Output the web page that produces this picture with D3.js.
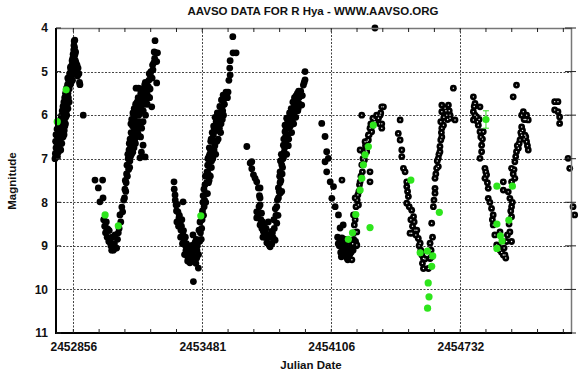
<!DOCTYPE html>
<html>
<head>
<meta charset="utf-8">
<script src="https://cdn.jsdelivr.net/npm/d3@7"></script>
<style>
  body { margin: 0; background: #fff; }
  text { font-family: "Liberation Sans", Arial, sans-serif; fill: #111; }
</style>
</head>
<body>
<div id="chart"></div>
<script>
const width = 580, height = 374;
const margin = { top: 28, right: 8, bottom: 41, left: 56 };

// tick values
const xMajorTicks = [2452856, 2453481, 2454106, 2454732];
const yTicks = [4, 5, 6, 7, 8, 9, 10, 11];

// visual estimates, solid dots  [JD, magnitude]
const visualObs = [
  [2452767,7.00],[2452769,6.88],[2452771,6.95],[2452772,6.75],[2452774,6.62],[2452772,6.45],[2452776,6.85],
  [2452778,6.70],[2452780,6.52],[2452777,6.32],[2452782,6.62],[2452784,6.40],[2452786,6.22],[2452788,6.72],
  [2452790,6.50],[2452792,6.30],[2452794,6.10],[2452796,6.42],[2452798,6.02],[2452800,6.22],[2452802,5.90],
  [2452804,6.30],[2452806,5.80],[2452808,6.02],[2452810,5.70],[2452812,6.12],[2452814,5.60],[2452816,5.85],
  [2452818,5.50],[2452820,5.75],[2452823,5.38],[2452825,5.60],[2452828,5.30],[2452830,5.50],[2452833,5.20],
  [2452836,5.40],[2452838,5.05],[2452841,5.30],[2452844,4.95],[2452846,5.15],[2452849,4.85],[2452851,5.00],
  [2452853,4.70],[2452856,4.90],[2452858,4.50],[2452860,4.30],[2452863,4.28],[2452862,4.45],[2452864,4.60],
  [2452866,4.75],[2452869,4.80],[2452872,4.95],[2452876,5.10],[2452879,4.92],[2452883,5.05],[2452886,5.25],
  [2452888,5.30],[2452904,6.00],[2452795,6.80],[2452800,6.65],[2452806,6.50],[2452812,6.35],[2452818,6.20],
  [2452824,6.00],[2452830,5.85],[2452836,5.70],
  [2452770,6.60],[2452773,6.90],[2452779,6.95],[2452783,6.85],[2452785,6.55],[2452789,6.30],[2452791,6.15],
  [2452793,6.60],[2452797,6.25],[2452799,6.50],[2452801,6.05],[2452803,6.45],[2452807,6.15],[2452809,5.85],
  [2452811,6.45],[2452813,5.80],[2452815,6.25],[2452817,5.65],[2452819,6.05],[2452821,5.55],[2452822,5.90],
  [2452826,5.45],[2452827,5.75],[2452829,5.15],[2452832,5.60],[2452834,5.35],[2452837,5.25],[2452840,5.10],
  [2452842,4.90],[2452845,5.25],[2452848,5.05],[2452850,4.75],[2452852,5.20],[2452855,4.60],[2452857,5.05],
  [2452859,4.40],[2452861,4.65],[2452865,4.90],[2452867,4.55],[2452870,5.00],[2452874,4.85],
  [2452961,7.49],[2452998,7.49],[2452977,7.67],[2452985,7.99],[2453000,7.90],[2453003,8.40],[2453008,8.55],
  [2453012,8.70],[2453016,8.45],[2453020,8.80],[2453024,8.62],[2453028,8.90],[2453034,8.91],[2453038,9.00],
  [2453042,9.10],[2453046,9.05],[2453050,9.10],[2453055,8.95],[2453060,9.05],[2453066,9.05],[2453070,8.85],
  [2453074,8.70],[2453078,8.60],[2453082,8.29],[2453086,8.45],[2453091,8.11],[2453095,8.22],[2453100,7.95],
  [2453030,8.65],[2453044,8.80],[2453058,8.75],[2453018,8.60],
  [2453104,7.90],[2453106,7.70],[2453108,7.50],[2453114,7.35],[2453116,7.15],[2453122,7.00],[2453126,6.80],
  [2453129,7.20],[2453131,6.55],[2453133,6.95],[2453136,6.40],[2453140,6.70],[2453143,6.25],[2453146,6.55],
  [2453149,6.05],[2453152,6.35],[2453155,5.90],[2453157,6.65],[2453160,6.15],[2453163,5.80],[2453166,6.40],
  [2453170,5.60],[2453173,6.00],[2453176,6.30],[2453179,5.75],[2453182,6.50],[2453186,5.55],[2453190,5.90],
  [2453194,6.15],[2453198,5.65],[2453202,5.30],[2453206,6.00],[2453210,5.45],[2453214,5.75],[2453218,5.42],
  [2453222,5.20],[2453226,5.60],[2453230,5.10],[2453236,5.81],[2453242,4.96],[2453246,4.80],[2453252,4.29],
  [2453256,4.57],[2453260,4.77],[2453264,4.57],[2453260,5.26],[2453160,5.38],[2453172,5.38],[2453188,5.40],
  [2453194,6.69],[2453179,6.98],[2453204,6.96],[2453186,6.85],
  [2453110,7.75],[2453112,7.55],[2453118,7.40],[2453120,6.90],[2453124,7.25],[2453127,6.65],[2453130,7.05],
  [2453134,6.70],[2453135,6.20],[2453138,6.90],[2453139,6.10],[2453141,6.45],[2453144,6.85],[2453145,5.95],
  [2453148,6.40],[2453150,6.75],[2453151,5.85],[2453154,6.55],[2453156,6.25],[2453158,5.75],[2453161,6.50],
  [2453162,6.00],[2453165,5.70],[2453167,6.20],[2453168,5.90],[2453171,6.45],[2453174,5.65],[2453175,6.15],
  [2453178,5.95],[2453181,6.20],[2453183,5.50],[2453184,5.85],[2453187,6.30],[2453189,5.70],[2453192,5.45],
  [2453195,5.90],[2453197,5.40],[2453200,5.75],[2453203,5.55],[2453205,5.25],[2453208,5.70],[2453212,5.30],
  [2453216,5.55],[2453220,5.35],[2453224,5.05],[2453228,5.40],[2453232,5.00],[2453238,5.15],[2453240,4.85],
  [2453248,4.55],[2453250,4.70],
  [2453344,7.53],[2453349,7.83],[2453388,7.99],[2453363,8.22],[2453373,8.52],[2453388,8.75],[2453397,8.98],
  [2453412,9.28],[2453421,9.39],[2453436,8.75],[2453454,9.28],[2453462,9.51],[2453438,9.82],[2453354,8.06],
  [2453368,8.36],[2453378,8.64],[2453392,8.87],[2453402,9.10],[2453416,9.00],[2453426,9.20],[2453441,9.10],
  [2453431,8.99],[2453446,8.92],[2453455,9.10],[2453460,8.87],[2453465,8.64],[2453470,8.45],[2453345,7.70],
  [2453358,8.45],[2453382,8.40],[2453408,9.15],[2453450,9.40],
  [2453350,7.95],[2453356,8.20],[2453360,8.05],[2453366,8.55],[2453370,8.30],[2453376,8.80],[2453380,8.55],
  [2453385,8.95],[2453390,8.65],[2453395,9.20],[2453399,8.80],[2453404,8.95],[2453410,9.35],[2453414,9.10],
  [2453418,9.25],[2453424,9.05],[2453428,9.35],[2453434,9.15],[2453444,9.25],[2453448,9.05],[2453452,8.85],
  [2453457,9.00],[2453463,9.20],[2453467,8.90],[2453472,8.70],[2453476,8.85],
  [2453478,8.60],[2453482,8.20],[2453485,7.85],[2453490,8.10],[2453494,7.60],[2453500,7.80],[2453504,7.30],
  [2453508,7.00],[2453511,7.55],[2453515,6.75],[2453518,7.20],[2453522,6.60],[2453526,7.05],[2453529,6.40],
  [2453533,6.85],[2453536,6.25],[2453540,6.60],[2453543,6.05],[2453546,6.90],[2453550,6.35],[2453554,5.95],
  [2453558,6.55],[2453562,6.15],[2453566,5.80],[2453570,6.40],[2453575,5.84],[2453578,6.10],[2453582,5.54],
  [2453586,5.75],[2453590,5.60],[2453596,5.47],[2453606,5.47],[2453610,5.20],[2453616,5.08],[2453614,4.92],
  [2453616,4.75],[2453630,4.57],[2453645,4.57],[2453629,4.20],[2453697,6.72],
  [2453480,8.40],[2453484,8.00],[2453487,8.30],[2453489,7.70],[2453492,7.95],[2453496,7.40],[2453498,8.00],
  [2453502,7.55],[2453506,7.80],[2453507,7.15],[2453510,7.35],[2453513,6.95],[2453514,7.50],[2453517,6.90],
  [2453520,7.40],[2453521,6.80],[2453524,6.55],[2453525,7.20],[2453528,6.85],[2453531,6.60],[2453532,7.00],
  [2453535,6.45],[2453538,6.80],[2453539,6.30],[2453542,6.70],[2453545,6.35],[2453548,6.15],[2453552,6.60],
  [2453556,6.20],[2453560,6.05],[2453564,6.30],[2453568,6.00],[2453572,6.20],[2453574,5.65],[2453580,5.90],
  [2453584,6.00],[2453588,5.75],[2453592,5.55],[2453600,5.50],[2453603,5.60],
  [2453713,7.10],[2453721,7.07],[2453721,7.23],[2453729,7.37],[2453737,7.45],[2453745,7.53],[2453753,7.67],
  [2453761,7.67],[2453761,7.90],[2453761,8.06],[2453745,8.22],[2453745,8.36],[2453761,8.52],[2453777,8.67],
  [2453794,8.93],[2453810,9.02],[2453825,8.82],[2453817,8.67],[2453801,8.45],[2453834,8.87],[2453842,8.48],
  [2453842,8.10],[2453858,7.79],[2453752,8.30],[2453770,8.60],[2453785,8.80],[2453802,8.95],[2453818,8.95],
  [2453830,8.60],[2453838,8.30],[2453786,8.70],
  [2453756,8.10],[2453758,7.85],[2453765,8.40],[2453768,8.25],[2453773,8.45],[2453775,8.80],[2453780,8.55],
  [2453790,8.60],[2453797,8.75],[2453805,8.80],[2453807,9.00],[2453814,8.80],[2453821,8.70],[2453828,8.40],
  [2453835,8.15],[2453845,7.95],[2453848,8.30],
  [2453850,7.90],[2453850,7.67],[2453858,7.30],[2453866,7.14],[2453874,6.98],[2453874,6.69],[2453882,6.38],
  [2453882,6.23],[2453890,6.07],[2453906,6.15],[2453922,5.84],[2453930,5.77],[2453955,5.54],[2453963,5.77],
  [2453971,5.31],[2453979,5.19],[2453979,5.00],[2453862,7.50],[2453870,7.20],[2453878,6.85],[2453886,6.60],
  [2453890,6.90],[2453895,6.45],[2453898,6.70],[2453902,6.30],[2453910,6.00],[2453914,6.40],[2453918,6.10],
  [2453926,5.95],[2453934,6.05],[2453940,5.70],[2453946,5.85],[2453950,5.60],[2453866,7.75],[2453858,7.55],
  [2453870,6.95],
  [2453854,7.75],[2453856,7.40],[2453860,7.05],[2453864,6.90],[2453868,7.35],[2453872,7.00],[2453876,6.55],
  [2453880,6.75],[2453884,6.50],[2453888,6.30],[2453892,6.20],[2453896,6.10],[2453900,6.55],[2453904,5.95],
  [2453908,6.25],[2453912,5.85],[2453916,6.00],[2453920,5.70],[2453924,6.20],[2453928,5.60],[2453932,5.90],
  [2453936,5.55],[2453942,5.50],[2453944,5.90],[2453948,5.45],[2453952,5.75],[2453958,5.45],[2453966,5.55],
  [2453975,5.25],
  [2454060,6.19],[2454076,6.49],[2454084,6.84],[2454092,6.99],[2454076,7.07],[2454084,7.30],[2454101,7.53],
  [2454117,7.64],[2454109,7.91],[2454125,8.10],[2454141,8.29],[2454149,8.59],[2454164,8.52],[2454158,8.82],
  [2454174,8.98],[2454182,9.28],[2454137,8.80],[2454145,9.00],[2454152,9.15],[2454160,9.05],[2454168,9.20],
  [2454176,9.15],[2454186,9.32],[2454190,9.10],[2454196,9.20],[2454200,9.05],[2454205,8.95],[2454212,9.10],
  [2454220,8.95],[2454228,9.00],[2454178,8.85],[2454195,8.90],[2454318,4.00],
  [2454140,8.95],[2454148,8.85],[2454155,9.25],[2454165,8.95],[2454172,9.10],[2454180,9.05],[2454188,9.20],
  [2454193,9.05],[2454202,9.15],[2454208,9.00],[2454215,8.85],[2454224,8.90]
];

// visual estimates, dots drawn with a white centre
const visualObsRing = [
  [2454158,7.49],
  [2454206,9.32],[2454230,8.98],[2454230,8.68],[2454214,8.29],[2454218,8.52],[2454222,7.90],[2454238,8.06],
  [2454235,7.83],[2454243,7.60],[2454246,7.53],[2454257,7.30],[2454254,7.14],[2454267,7.03],[2454246,6.80],
  [2454275,6.80],[2454278,6.84],[2454270,6.61],[2454286,6.57],[2454286,6.46],[2454294,6.30],[2454302,6.38],
  [2454308,6.07],[2454318,6.15],[2454335,6.07],[2454343,6.00],[2454351,6.30],[2454351,6.20],[2454351,5.81],
  [2454359,5.81],[2454254,6.00],[2454294,7.30],[2454294,7.53],
  [2454210,8.95],[2454216,8.70],[2454222,8.40],[2454226,8.10],[2454232,7.95],[2454240,7.75],[2454250,7.40],
  [2454260,7.00],[2454264,6.85],[2454272,6.70],[2454280,6.60],[2454290,6.45],[2454298,6.20],[2454304,6.25],
  [2454314,6.10],[2454326,6.00],[2454340,6.20],[2454346,5.95],
  [2454440,6.11],[2454431,6.42],[2454440,6.57],[2454448,6.80],[2454448,6.95],[2454456,7.22],[2454464,7.30],
  [2454472,7.53],[2454472,7.64],[2454480,7.87],[2454472,8.02],[2454496,8.18],[2454505,8.33],[2454496,8.71],
  [2454488,8.71],[2454512,8.64],[2454521,8.64],[2454528,8.83],[2454537,8.94],[2454545,9.21],[2454553,9.29],
  [2454553,9.52],[2454577,9.52],[2454585,9.29],[2454593,9.25],[2454585,8.94],[2454593,8.48],[2454601,8.10],
  [2454609,7.79],[2454609,7.68],[2454609,7.45],[2454617,7.22],[2454625,6.99],[2454633,6.84],[2454637,6.57],
  [2454642,6.30],[2454637,6.15],[2454642,5.92],[2454642,5.77],[2454658,5.84],[2454674,5.77],[2454666,6.00],
  [2454682,6.07],[2454650,6.23],[2454698,5.38],[2454706,6.11],[2454682,6.00],[2454642,6.50],[2454633,6.72],
  [2454625,7.18],
  [2454476,7.75],[2454484,8.10],[2454492,8.40],[2454500,8.55],[2454508,8.45],[2454516,8.75],[2454532,9.00],
  [2454540,9.10],[2454548,9.40],[2454560,9.30],[2454590,9.10],[2454597,8.80],[2454604,7.95],[2454613,7.35],
  [2454620,7.05],[2454628,6.90],[2454640,6.40],[2454652,6.05],[2454662,5.90],[2454670,6.10],[2454678,5.90],
  [2454795,5.58],[2454803,5.73],[2454827,5.81],[2454795,5.92],[2454803,6.00],[2454795,6.11],[2454819,6.23],
  [2454827,6.38],[2454843,6.38],[2454811,6.04],[2454835,6.69],[2454835,6.84],[2454827,6.99],[2454851,7.22],
  [2454859,7.37],[2454851,7.45],[2454867,7.68],[2454867,7.91],[2454883,8.14],[2454891,8.29],[2454940,7.53],
  [2454940,7.72],[2454924,8.68],[2454948,9.21],[2454956,8.90],[2454980,8.90],[2454972,8.68],[2454980,8.33],
  [2454980,8.10],[2454972,7.91],[2454964,7.76],[2454980,7.53],[2454996,7.45],[2454980,7.22],[2454996,7.07],
  [2455004,6.84],[2455013,6.76],[2455021,6.57],[2455029,6.46],[2455045,6.46],[2455053,6.61],[2455061,6.80],
  [2455029,6.27],[2455029,6.00],[2455037,5.92],[2455053,6.00],[2455061,6.11],[2454988,5.58],[2455004,5.31],
  [2454891,8.52],[2454899,8.75],[2454908,8.98],[2454924,9.10],[2454940,9.21],[2454952,9.28],
  [2454799,5.80],[2454815,6.15],[2454823,6.10],[2454831,6.50],[2454839,6.55],[2454855,7.30],[2454863,7.55],
  [2454875,8.00],[2454887,8.40],[2454916,9.00],[2454932,9.15],[2454944,9.05],[2454960,8.75],[2454968,8.50],
  [2454976,8.20],[2454984,8.00],[2454988,7.35],[2454992,7.25],[2455000,6.95],[2455008,6.70],[2455017,6.65],
  [2455025,6.40],[2455033,6.35],[2455041,6.55],[2455049,6.50],[2455057,6.70],[2455041,6.10],[2455049,6.10],
  [2455189,5.69],[2455205,5.69],[2455189,5.88],[2455205,5.92],[2455213,6.04],[2455213,6.19],[2455254,6.99],
  [2455262,7.22],[2455278,8.10],[2455286,8.29]
];

// second observer set, green
const greenObs = [
  [2452821,5.42],[2452778,6.15],[2453010,8.29],[2453074,8.54],[2453474,8.31],
  [2454310,6.23],[2454286,6.72],[2454270,6.91],[2454262,7.14],[2454254,7.45],[2454246,7.72],[2454225,8.28],
  [2454209,8.70],[2454189,8.85],[2454294,8.58],
  [2454492,7.49],[2454537,9.16],[2454572,9.12],[2454598,9.23],[2454593,9.47],[2454576,9.85],[2454580,10.17],
  [2454573,10.43],[2454630,8.23],
  [2454856,6.10],[2454909,7.63],[2454984,7.63],[2454909,8.50],[2454926,8.77],[2454934,8.89],[2454967,8.41],
  [2454909,9.06]
];
const greenErrJD = [2454856];
const greenErrMag = [6.10];
const greenErrSize = [0.20];

const svg = d3.select("#chart").append("svg")
  .attr("width", width).attr("height", height);

const x = d3.scaleLinear()
  .domain([2452772, 2455273])
  .range([margin.left, width - margin.right]);

const y = d3.scaleLinear()
  .domain([4, 11])
  .range([margin.top, height - margin.bottom]);

const x0 = margin.left, x1 = width - margin.right;
const y0 = margin.top, y1 = height - margin.bottom;

// minor ticks every 125 days
const xMinor = d3.range(xMajorTicks[0], 2455273, 125);

// grid
const grid = svg.append("g")
  .attr("stroke", "#444").attr("stroke-width", 1).attr("stroke-dasharray", "2,1.5");
grid.selectAll(".gx").data(xMajorTicks).enter().append("line")
  .attr("x1", d => Math.round(x(d)) + .5).attr("x2", d => Math.round(x(d)) + .5)
  .attr("y1", y0).attr("y2", y1);
grid.selectAll(".gy").data(yTicks.slice(1, -1)).enter().append("line")
  .attr("x1", x0).attr("x2", x1)
  .attr("y1", d => Math.round(y(d)) + .5).attr("y2", d => Math.round(y(d)) + .5);

// black points
const pts = svg.append("g");
pts.selectAll(".vo").data(visualObs).enter().append("circle")
  .attr("cx", d => x(d[0])).attr("cy", d => y(d[1])).attr("r", 3.4).attr("fill", "#000");
pts.selectAll(".vr").data(visualObsRing).enter().append("circle")
  .attr("cx", d => x(d[0])).attr("cy", d => y(d[1])).attr("r", 3.4).attr("fill", "#000");
pts.selectAll(".vrc").data(visualObsRing).enter().append("circle")
  .attr("cx", d => x(d[0])).attr("cy", d => y(d[1])).attr("r", 0.7).attr("fill", "#fff");

// error bar on green estimate
const eb = svg.append("g").attr("stroke", "#33dd22").attr("stroke-width", 1);
greenErrJD.forEach((jd, i) => {
  const cx = x(jd), ya = y(greenErrMag[i] - greenErrSize[i]), yb = y(greenErrMag[i] + greenErrSize[i]);
  eb.append("line").attr("x1", cx).attr("x2", cx).attr("y1", ya).attr("y2", yb);
  eb.append("line").attr("x1", cx - 3).attr("x2", cx + 3).attr("y1", ya).attr("y2", ya);
  eb.append("line").attr("x1", cx - 3).attr("x2", cx + 3).attr("y1", yb).attr("y2", yb);
});

// green points
svg.append("g").selectAll("circle").data(greenObs).enter().append("circle")
  .attr("cx", d => x(d[0])).attr("cy", d => y(d[1])).attr("r", 3.6).attr("fill", "#2ee51c");

// frame
svg.append("line").attr("x1", x0).attr("x2", x1).attr("y1", y0 + .5).attr("y2", y0 + .5)
  .attr("stroke", "#777").attr("stroke-width", 1.5);
svg.append("line").attr("x1", x1 - .5).attr("x2", x1 - .5).attr("y1", y0).attr("y2", y1)
  .attr("stroke", "#777").attr("stroke-width", 1.5);
svg.append("line").attr("x1", x0).attr("x2", x0).attr("y1", y0).attr("y2", y1 + 1)
  .attr("stroke", "#000").attr("stroke-width", 2);
svg.append("line").attr("x1", x0 - 1).attr("x2", x1).attr("y1", y1).attr("y2", y1)
  .attr("stroke", "#000").attr("stroke-width", 2);

// axes
const xAxisBottom = d3.axisBottom(x).tickValues(xMajorTicks).tickFormat(d3.format("d")).tickSize(0).tickPadding(9);
const gxb = svg.append("g").attr("transform", `translate(0,${y1})`).call(xAxisBottom);
gxb.select(".domain").remove();
gxb.selectAll("text").attr("font-size", 12).attr("font-weight", "bold").attr("font-family", "Liberation Sans, Arial, sans-serif");

const yAxisLeft = d3.axisLeft(y).tickValues(yTicks).tickFormat(d3.format("d")).tickSize(0).tickPadding(8);
const gyl = svg.append("g").attr("transform", `translate(${x0},0)`).call(yAxisLeft);
gyl.select(".domain").remove();
gyl.selectAll("text").attr("font-size", 12).attr("font-weight", "bold").attr("font-family", "Liberation Sans, Arial, sans-serif");

// small inward ticks, mirrored like gnuplot
const tk = svg.append("g").attr("stroke", "#222").attr("stroke-width", 1);
tk.selectAll(".tb").data(xMinor).enter().append("line")
  .attr("x1", d => x(d)).attr("x2", d => x(d)).attr("y1", y1).attr("y2", y1 - 4);
tk.selectAll(".tt").data(xMinor).enter().append("line")
  .attr("x1", d => x(d)).attr("x2", d => x(d)).attr("y1", y0).attr("y2", y0 + 4);
tk.selectAll(".tr").data(yTicks).enter().append("line")
  .attr("x1", x1 - 7).attr("x2", x1 + 4).attr("y1", d => y(d)).attr("y2", d => y(d));
tk.selectAll(".tl").data(yTicks).enter().append("line")
  .attr("x1", x0).attr("x2", x0 + 5).attr("y1", d => y(d)).attr("y2", d => y(d));

// labels
svg.append("text").attr("x", 313).attr("y", 15).attr("text-anchor", "middle")
  .attr("font-size", 11.5).attr("font-weight", "bold")
  .text("AAVSO DATA FOR R Hya - WWW.AAVSO.ORG");
svg.append("text").attr("x", 311).attr("y", 369).attr("text-anchor", "middle")
  .attr("font-size", 11.5).attr("font-weight", "bold").text("Julian Date");
svg.append("text").attr("transform", "translate(16,181) rotate(-90)").attr("text-anchor", "middle")
  .attr("font-size", 11.5).attr("font-weight", "bold").text("Magnitude");
</script>
</body>
</html>
